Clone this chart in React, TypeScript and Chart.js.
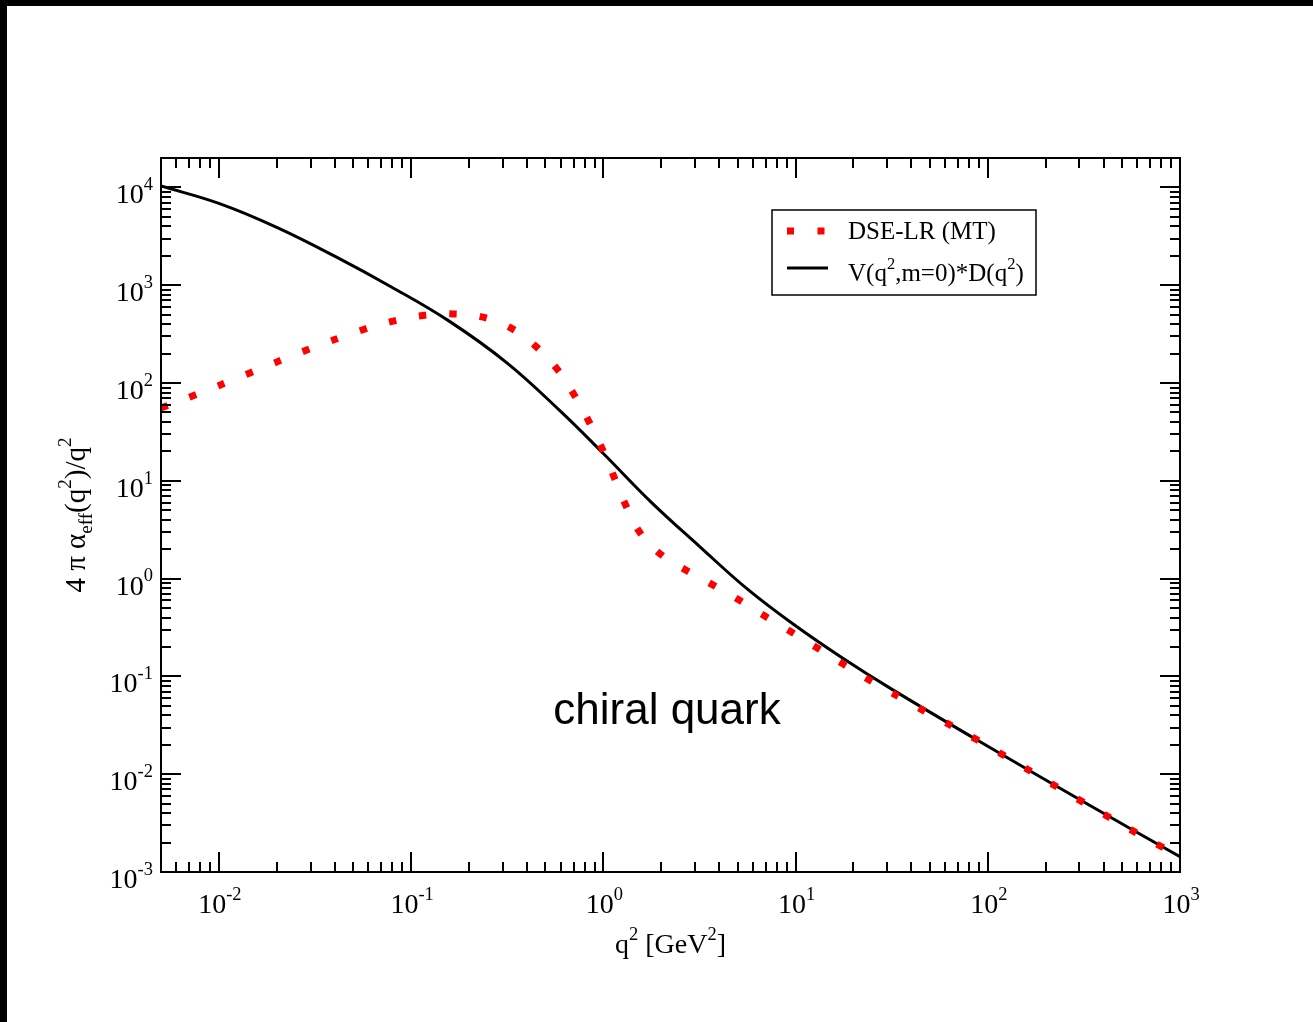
import React, { useEffect, useRef } from "react";
import { Chart, registerables } from "chart.js";

Chart.register(...registerables);

const W = 1313;
const H = 1022;

// V(q^2, m=0) * D(q^2)
const blackX = [0.005, 0.01, 0.02, 0.0398, 0.0794, 0.1585, 0.3162, 0.594, 1.0, 1.778, 3.162, 5.623, 10, 17.78, 31.62, 100, 316.2, 1000];
const blackY = [10350, 6870, 3910, 1995, 955, 427, 160, 52.2, 19.05, 6.03, 2.14, 0.78, 0.329, 0.1514, 0.0741, 0.01928, 0.00519, 0.00143];

// DSE-LR (MT)
const redX = [0.005, 0.00729, 0.0144, 0.0284, 0.0566, 0.0807, 0.1156, 0.167, 0.24, 0.337, 0.45, 0.578, 0.706, 0.842, 0.989, 1.138, 1.31, 1.55, 1.99, 2.71, 3.73, 5.14, 7.02, 9.66, 13.1, 17.9, 24.4, 46.1, 87.5, 313, 803, 1000];
const redY = [55.6, 73.6, 126, 216, 353, 430, 491, 509, 468, 358, 233, 137, 75.5, 40.3, 21.0, 10.9, 5.6, 2.96, 1.77, 1.21, 0.859, 0.597, 0.407, 0.279, 0.193, 0.132, 0.091, 0.045, 0.0226, 0.00518, 0.00181, 0.0015];

const xDecades = [-2, -1, 0, 1, 2, 3];
const yDecades = [-3, -2, -1, 0, 1, 2, 3, 4];
const X_MIN = 0.005;
const X_MAX = 1000;
const Y_MIN = 0.001;
const Y_MAX = 20000;

const SERIF = '"Liberation Serif", "Times New Roman", serif';
const SANS = '"Liberation Sans", Arial, sans-serif';

type Seg = { t: string; s?: "sup" | "sub" };

const legendRed: Seg[] = [{ t: "DSE-LR (MT)" }];
const legendBlack: Seg[] = [{ t: "V(q" }, { t: "2", s: "sup" }, { t: ",m=0)*D(q" }, { t: "2", s: "sup" }, { t: ")" }];
const xTitle: Seg[] = [{ t: "q" }, { t: "2", s: "sup" }, { t: " [GeV" }, { t: "2", s: "sup" }, { t: "]" }];
const yTitle: Seg[] = [{ t: "4 \u03c0 \u03b1" }, { t: "eff", s: "sub" }, { t: "(q" }, { t: "2", s: "sup" }, { t: ")/q" }, { t: "2", s: "sup" }];
const annotation = "chiral quark";

function segFont(seg: Seg, size: number) {
  const fs = seg.s ? size * 0.66 : size;
  return `${fs}px ${SERIF}`;
}

function richWidth(ctx: CanvasRenderingContext2D, segs: Seg[], size: number) {
  let w = 0;
  for (const s of segs) {
    ctx.font = segFont(s, size);
    w += ctx.measureText(s.t).width;
  }
  return w;
}

function drawRich(
  ctx: CanvasRenderingContext2D,
  segs: Seg[],
  x: number,
  y: number,
  size: number,
  align: "left" | "center" | "right"
) {
  const total = richWidth(ctx, segs, size);
  let cx = align === "center" ? x - total / 2 : align === "right" ? x - total : x;
  ctx.textAlign = "left";
  ctx.textBaseline = "alphabetic";
  for (const s of segs) {
    ctx.font = segFont(s, size);
    const dy = s.s === "sup" ? -size * 0.47 : s.s === "sub" ? size * 0.25 : 0;
    ctx.fillText(s.t, cx, y + dy);
    cx += ctx.measureText(s.t).width;
  }
}

const framePlugin = {
  id: "xmgraceFrame",
  afterDraw(chart: any) {
    const ctx: CanvasRenderingContext2D = chart.ctx;
    const { left, right, top, bottom } = chart.chartArea;
    const xs = chart.scales.x;
    const ys = chart.scales.y;
    ctx.save();
    ctx.strokeStyle = "#000";
    ctx.fillStyle = "#000";
    ctx.lineWidth = 2;
    ctx.lineCap = "butt";
    ctx.strokeRect(left, top, right - left, bottom - top);

    // x ticks (bottom and top)
    for (let d = -3; d <= 3; d++) {
      for (let m = 1; m <= 9; m++) {
        const v = m * Math.pow(10, d);
        if (v < X_MIN * 0.999 || v > X_MAX * 1.001) continue;
        const px = Math.round(xs.getPixelForValue(v));
        const len = m === 1 ? 20 : 10;
        ctx.beginPath();
        ctx.moveTo(px, bottom);
        ctx.lineTo(px, bottom - len);
        ctx.moveTo(px, top);
        ctx.lineTo(px, top + len);
        ctx.stroke();
      }
    }
    // y ticks (left and right)
    for (let d = -3; d <= 4; d++) {
      for (let m = 1; m <= 9; m++) {
        const v = m * Math.pow(10, d);
        if (v < Y_MIN * 0.999 || v > Y_MAX * 1.001) continue;
        const py = Math.round(ys.getPixelForValue(v));
        const len = m === 1 ? 20 : 10;
        ctx.beginPath();
        ctx.moveTo(left, py);
        ctx.lineTo(left + len, py);
        ctx.moveTo(right, py);
        ctx.lineTo(right - len, py);
        ctx.stroke();
      }
    }

    // tick labels
    const TS = 28;
    for (const d of xDecades) {
      const px = xs.getPixelForValue(Math.pow(10, d));
      drawRich(ctx, [{ t: "10" }, { t: String(d), s: "sup" }], px + 1, bottom + 41, TS, "center");
    }
    for (const d of yDecades) {
      const py = ys.getPixelForValue(Math.pow(10, d));
      drawRich(ctx, [{ t: "10" }, { t: String(d), s: "sup" }], left - 8, py + 16, TS, "right");
    }

    // axis titles
    drawRich(ctx, xTitle, (left + right) / 2, bottom + 81, 28, "center");
    ctx.save();
    ctx.translate(85, (top + bottom) / 2);
    ctx.rotate(-Math.PI / 2);
    drawRich(ctx, yTitle, 0, 0, 29, "center");
    ctx.restore();

    // legend
    const lx = 772, ly = 210, lw = 264, lh = 85;
    ctx.fillStyle = "#fff";
    ctx.fillRect(lx, ly, lw, lh);
    ctx.lineWidth = 1.5;
    ctx.strokeStyle = "#000";
    ctx.strokeRect(lx, ly, lw, lh);
    ctx.save();
    ctx.strokeStyle = "#ff0000";
    ctx.lineWidth = 7;
    ctx.setLineDash([7, 23.5]);
    ctx.beginPath();
    ctx.moveTo(787, 231);
    ctx.lineTo(828, 231);
    ctx.stroke();
    ctx.restore();
    ctx.strokeStyle = "#000";
    ctx.lineWidth = 3;
    ctx.beginPath();
    ctx.moveTo(787, 268);
    ctx.lineTo(828, 268);
    ctx.stroke();
    ctx.fillStyle = "#000";
    drawRich(ctx, legendRed, 848, 239, 25, "left");
    drawRich(ctx, legendBlack, 848, 281, 25, "left");

    // annotation
    ctx.font = `44px ${SANS}`;
    ctx.textAlign = "center";
    ctx.textBaseline = "alphabetic";
    ctx.fillText(annotation, 667, 724);
    ctx.restore();
  },
};

export default function App() {
  const ref = useRef<HTMLCanvasElement | null>(null);

  useEffect(() => {
    if (!ref.current) return;
    const chart = new Chart(ref.current, {
      type: "line",
      data: {
        datasets: [
          {
            label: "DSE-LR (MT)",
            data: redX.map((x, i) => ({ x, y: redY[i] })),
            borderColor: "#ff0000",
            borderWidth: 7,
            borderDash: [7, 23.5],
            borderCapStyle: "butt",
            pointRadius: 0,
            tension: 0.4,
            fill: false,
            clip: 0,
          },
          {
            label: "V(q2,m=0)*D(q2)",
            data: blackX.map((x, i) => ({ x, y: blackY[i] })),
            borderColor: "#000000",
            borderWidth: 3,
            pointRadius: 0,
            tension: 0.4,
            fill: false,
            clip: 0,
          },
        ] as any,
      },
      options: {
        animation: false,
        responsive: false,
        maintainAspectRatio: false,
        devicePixelRatio: 1,
        layout: { padding: { left: 161, right: W - 1180, top: 158, bottom: H - 872 } },
        plugins: { legend: { display: false }, tooltip: { enabled: false } },
        events: [],
        scales: {
          x: { type: "logarithmic", min: X_MIN, max: X_MAX, display: false },
          y: { type: "logarithmic", min: Y_MIN, max: Y_MAX, display: false },
        },
      },
      plugins: [framePlugin],
    });
    return () => chart.destroy();
  }, []);

  return (
    <div style={{ position: "fixed", left: 0, top: 0, width: W, height: H, background: "#000", overflow: "hidden" }}>
      <div style={{ position: "absolute", left: 7, top: 6, right: 0, bottom: 0, background: "#fff" }} />
      <canvas ref={ref} width={W} height={H} style={{ position: "absolute", left: 0, top: 0, width: W, height: H }} />
    </div>
  );
}
